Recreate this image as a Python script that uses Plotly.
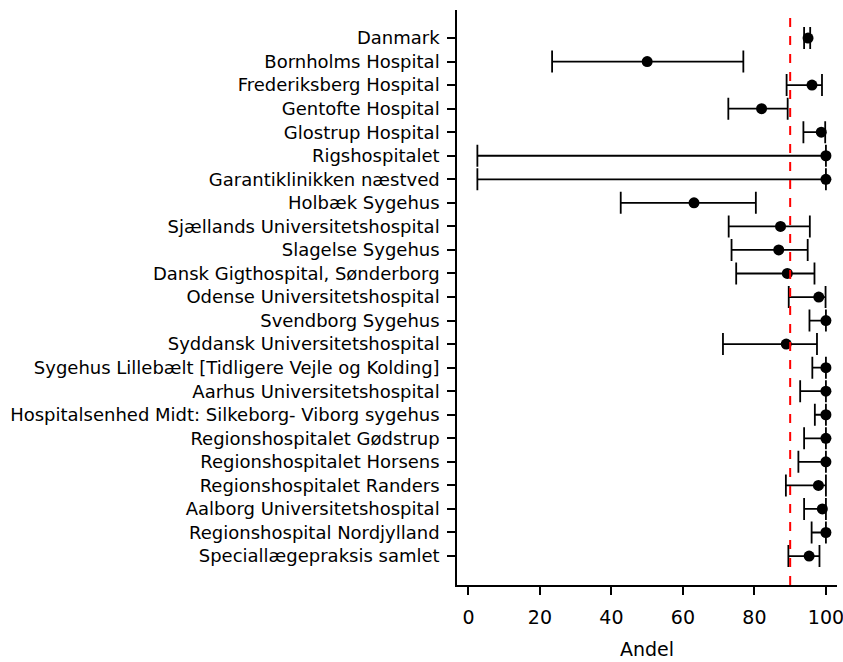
import plotly.graph_objects as go

categories = [
    "Danmark", "Bornholms Hospital", "Frederiksberg Hospital", "Gentofte Hospital",
    "Glostrup Hospital", "Rigshospitalet", "Garantiklinikken næstved", "Holbæk Sygehus",
    "Sjællands Universitetshospital", "Slagelse Sygehus", "Dansk Gigthospital, Sønderborg",
    "Odense Universitetshospital", "Svendborg Sygehus", "Syddansk Universitetshospital",
    "Sygehus Lillebælt [Tidligere Vejle og Kolding]", "Aarhus Universitetshospital",
    "Hospitalsenhed Midt: Silkeborg- Viborg sygehus", "Regionshospitalet Gødstrup",
    "Regionshospitalet Horsens", "Regionshospitalet Randers", "Aalborg Universitetshospital",
    "Regionshospital Nordjylland", "Speciallægepraksis samlet",
]
andel = [95.0, 50.0, 96.1, 82.0, 98.7, 100.0, 100.0, 63.1, 87.3, 86.8, 89.2, 98.0, 100.0,
         88.9, 100.0, 100.0, 100.0, 100.0, 100.0, 97.9, 99.0, 100.0, 95.3]
lower = [93.9, 23.4, 89.0, 72.7, 93.7, 2.5, 2.5, 42.6, 72.8, 73.6, 74.9, 89.6, 95.4,
         71.2, 96.2, 92.8, 96.9, 93.9, 92.3, 88.8, 93.9, 96.0, 89.5]
upper = [95.6, 76.9, 98.9, 89.3, 99.8, 100.0, 100.0, 80.4, 95.5, 94.9, 96.8, 99.9, 100.0,
         97.5, 100.0, 100.0, 100.0, 100.0, 100.0, 100.0, 100.0, 100.0, 98.2]
target = 90
x_ticks = [0, 20, 40, 60, 80, 100]

err_plus = [u - a for u, a in zip(upper, andel)]
err_minus = [a - l for a, l in zip(andel, lower)]

fig = go.Figure()
fig.add_trace(go.Scatter(
    x=andel, y=categories, mode="markers",
    marker=dict(color="black", size=11),
    error_x=dict(type="data", symmetric=False, array=err_plus, arrayminus=err_minus,
                 color="black", thickness=1.8, width=11),
    showlegend=False,
))
fig.add_shape(type="line", x0=target, x1=target, y0=0, y1=1, xref="x", yref="paper",
              line=dict(color="red", width=2, dash="dash"))

font = "DejaVu Sans"
n = len(categories)
fig.update_layout(
    width=843, height=662,
    margin=dict(l=457, r=6, t=10, b=77, autoexpand=False),
    paper_bgcolor="white", plot_bgcolor="white",
    font=dict(family=font, size=18, color="black"),
    xaxis=dict(
        range=[-3.2, 103.1], tickvals=x_ticks, ticks="outside", ticklen=8, tickwidth=1.5,
        tickcolor="black", showline=True, linecolor="black", linewidth=1.5,
        showgrid=False, zeroline=False, ticklabelstandoff=6, ticklabeloverflow="allow",
        automargin=False,
        title=dict(text="Andel", font=dict(size=19), standoff=16),
        tickfont=dict(size=19),
    ),
    yaxis=dict(
        type="category", categoryorder="array", categoryarray=categories,
        range=[n - 1 + 1.23, -1.19], ticks="outside", ticklen=8, tickwidth=1.5,
        tickcolor="black", showline=True, linecolor="black", linewidth=1.5,
        showgrid=False, zeroline=False, ticklabelstandoff=4, automargin=False,
    ),
)
fig.write_html("out.html")
